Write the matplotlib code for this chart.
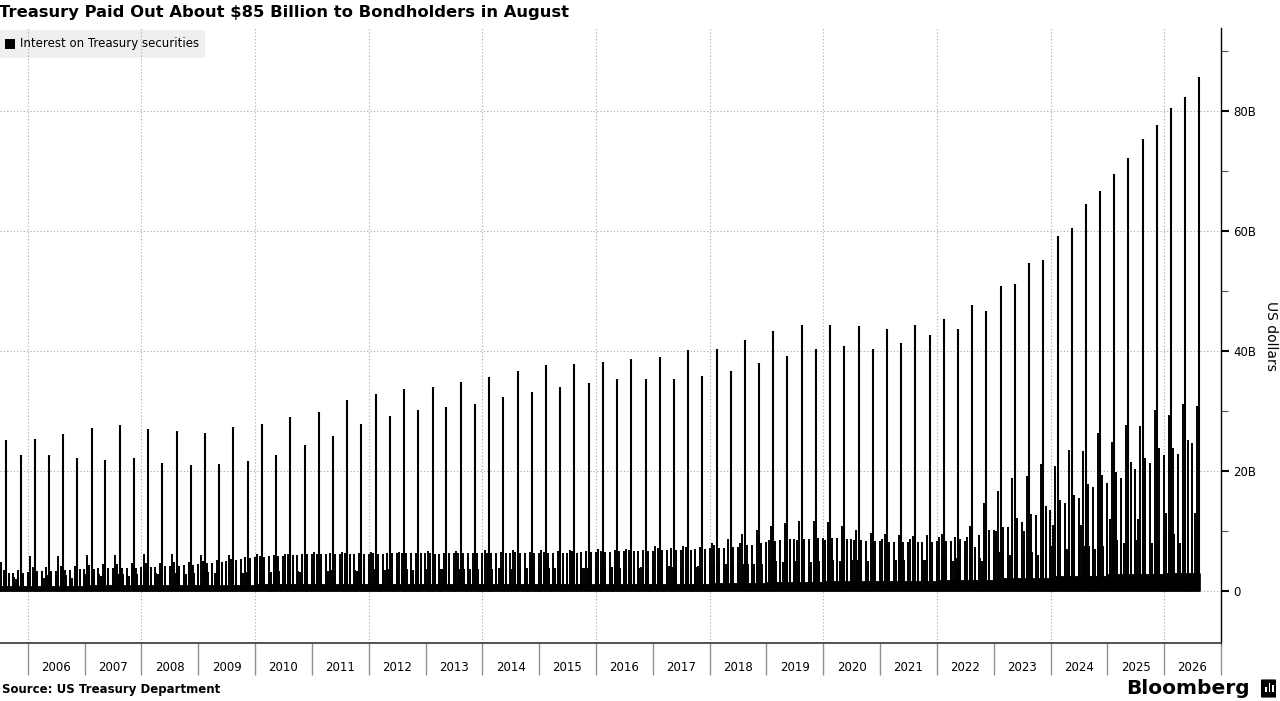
import numpy as np
import pandas as pd
import matplotlib
matplotlib.use("Agg")
import matplotlib.pyplot as plt
import matplotlib.dates as mdates
from matplotlib.patches import Rectangle, FancyBboxPatch
from matplotlib.ticker import FixedLocator, FuncFormatter

plt.rcParams['font.family'] = ['DejaVu Sans']

W, H = 1280, 701

years = list(range(2005, 2027))

# Big coupon days: 15th of Feb / May / Aug / Nov, in $B, starting Aug 2005
spike_vals = [
    25.1, 22.7,
    25.4, 22.6, 26.1, 22.2,
    27.1, 21.9, 27.6, 22.1,
    27.0, 21.4, 26.6, 21.0,
    26.4, 21.1, 27.3, 21.6,
    27.8, 22.7, 29.0, 24.3,
    29.9, 25.8, 31.9, 27.9,
    32.9, 29.1, 33.7, 30.1,
    34.0, 30.6, 34.8, 31.2,
    35.6, 32.3, 36.7, 33.1,
    37.6, 34.0, 37.8, 34.7,
    38.2, 35.3, 38.6, 35.3,
    39.0, 35.4, 40.1, 35.8,
    40.4, 36.7, 41.8, 38.0,
    43.3, 39.2, 44.4, 40.4,
    44.3, 40.9, 44.1, 40.4,
    43.6, 41.3, 44.3, 42.7,
    45.3, 43.6, 47.7, 46.7,
    50.9, 51.1, 54.6, 55.1,
    59.1, 60.5, 64.5, 66.6,
    69.5, 72.1, 75.4, 77.7,
    80.5, 82.3, 85.7,
]

nan = np.nan
# month-end payments, $B, one row per year (Jan..Dec)
month_end = [
    [nan] * 6 + [3.5, 3.0, 3.0, 3.5, 3.0, 3.2],
    [4.0, 3.3, 3.3, 4.0, 3.4, 3.4, 4.2, 3.5, 3.5, 4.2, 3.6, 3.6],
    [4.4, 3.7, 3.8, 4.5, 3.8, 3.8, 4.5, 3.8, 3.9, 4.6, 3.9, 4.0],
    [4.6, 4.0, 4.0, 4.7, 4.1, 4.1, 4.8, 4.2, 4.3, 4.9, 4.4, 4.5],
    [5.0, 4.6, 4.7, 5.2, 4.9, 5.0, 5.4, 5.2, 5.3, 5.6, 5.5, 5.6],
    [5.9, 5.7, 5.8, 6.0, 5.9, 5.9, 6.1, 6.0, 6.0, 6.2, 6.1, 6.1],
    [6.2, 6.1, 6.1, 6.3, 6.2, 6.2, 6.3, 6.2, 6.2, 6.3, 6.2, 6.2],
    [6.3, 6.2, 6.2, 6.4, 6.3, 6.3, 6.4, 6.3, 6.3, 6.4, 6.3, 6.3],
    [6.3, 6.2, 6.2, 6.4, 6.3, 6.3, 6.4, 6.3, 6.3, 6.4, 6.3, 6.3],
    [6.4, 6.3, 6.3, 6.5, 6.4, 6.4, 6.5, 6.4, 6.4, 6.5, 6.4, 6.4],
    [6.5, 6.4, 6.4, 6.6, 6.4, 6.4, 6.6, 6.4, 6.5, 6.6, 6.5, 6.5],
    [6.7, 6.5, 6.5, 6.8, 6.6, 6.6, 6.8, 6.6, 6.6, 6.9, 6.7, 6.7],
    [7.1, 6.8, 6.8, 7.2, 6.9, 6.9, 7.3, 6.9, 7.0, 7.4, 7.0, 7.1],
    [7.6, 7.1, 7.1, 8.7, 7.3, 7.4, 9.5, 7.6, 7.7, 10.1, 8.0, 8.1],
    [10.9, 8.4, 8.5, 11.3, 8.6, 8.6, 11.7, 8.7, 8.7, 11.7, 8.8, 8.8],
    [11.5, 8.8, 8.8, 10.9, 8.7, 8.6, 10.1, 8.5, 8.4, 9.6, 8.3, 8.3],
    [9.5, 8.2, 8.2, 9.3, 8.1, 8.1, 9.2, 8.1, 8.1, 9.3, 8.2, 8.3],
    [9.5, 8.4, 8.4, 9.0, 8.7, 8.4, 10.8, 7.4, 9.3, 14.7, 10.1, 10.2],
    [16.6, 10.7, 10.7, 18.8, 12.1, 11.5, 19.2, 12.9, 12.7, 21.1, 14.1, 13.5],
    [20.9, 15.2, 14.7, 23.5, 16.0, 15.5, 23.3, 17.8, 17.3, 26.4, 19.4, 18.0],
    [24.9, 19.8, 18.8, 27.7, 21.5, 20.3, 27.5, 22.1, 21.3, 30.2, 23.9, 22.6],
    [29.3, 23.9, 22.8, 31.1, 25.2, 24.6, 30.8] + [nan] * 5,
]

# mid-month payments in the other months (Jan/Jul 15 and Apr/Oct 15), per year
mid_jan_jul = [4.8, 5.8, 6.0, 6.2, 6.0, 6.2, 6.5, 6.5, 6.6, 6.8, 6.9, 7.0, 7.5,
               8.0, 8.5, 8.5, 8.6, 9.0, 10.0, 11.0, 12.0, 13.0]
mid_apr_oct = [2.0, 2.2, 2.5, 2.8, 3.0, 3.2, 3.4, 3.5, 3.6, 3.8, 3.8, 4.0, 4.2,
               4.5, 4.8, 5.0, 5.2, 5.0, 6.0, 7.0, 8.0, 8.0]
# payments on the first business day of each month, per year
first_day_level = [2.4, 2.6, 2.8, 3.0, 3.2, 3.4, 3.5, 3.6, 3.6, 3.7, 3.8, 3.9, 4.0,
                   4.5, 5.0, 5.2, 5.2, 5.5, 6.5, 7.5, 8.5, 9.5]
# typical level on ordinary business days, per year
daily_level = [0.9, 0.9, 1.0, 1.0, 1.0, 1.1, 1.1, 1.1, 1.1, 1.2, 1.2, 1.2, 1.2,
               1.4, 1.5, 1.6, 1.7, 1.9, 2.2, 2.5, 2.8, 3.0]

data_start = pd.Timestamp(2005, 7, 1)
data_end = pd.Timestamp(2026, 8, 17)

# ---- build dated series
spike_dates = []
yy, mm = 2005, 8
for v in spike_vals:
    spike_dates.append(pd.Timestamp(yy, mm, 15))
    mm += 3
    if mm > 12:
        mm -= 12
        yy += 1

me_dates, me_vals = [], []
mid_dates, mid_vals = [], []
first_dates, first_vals = [], []
for i, yr in enumerate(years):
    for m in range(1, 13):
        v = month_end[i][m - 1]
        d = pd.Timestamp(yr, m, 1) + pd.offsets.MonthEnd(0)
        if not np.isnan(v) and data_start <= d <= data_end:
            me_dates.append(d)
            me_vals.append(v)
        d15 = pd.Timestamp(yr, m, 15)
        if data_start <= d15 <= data_end:
            if m in (1, 7):
                mid_dates.append(d15)
                mid_vals.append(mid_jan_jul[i])
            elif m in (4, 10):
                mid_dates.append(d15)
                mid_vals.append(mid_apr_oct[i])
        d1 = pd.Timestamp(yr, m, 1) + pd.offsets.BDay(0)
        if data_start <= d1 <= data_end:
            first_dates.append(d1)
            first_vals.append(first_day_level[i])

bdays = pd.bdate_range(data_start, data_end)
day_vals = [daily_level[d.year - 2005] for d in bdays]

# ---- figure
fig = plt.figure(figsize=(W / 100, H / 100), dpi=100)
ax_left, ax_right, ax_top, ax_bot = 0, 1221, 28, 643
ax = fig.add_axes([ax_left / W, 1 - ax_bot / H, (ax_right - ax_left) / W, (ax_bot - ax_top) / H])

y0_px, px_per_b = 591, 6.0
ax.set_ylim(-(ax_bot - y0_px) / px_per_b, (y0_px - ax_top) / px_per_b)
ax.set_xlim(mdates.date2num(pd.Timestamp(2005, 7, 6)), mdates.date2num(pd.Timestamp(2027, 1, 1)))

ax.vlines(mdates.date2num(bdays), 0, day_vals, color='black', lw=0.6, zorder=2)
ax.vlines(mdates.date2num(first_dates), 0, first_vals, color='black', lw=1.4, zorder=2)
ax.vlines(mdates.date2num(mid_dates), 0, mid_vals, color='black', lw=1.4, zorder=2)
ax.vlines(mdates.date2num(me_dates), 0, me_vals, color='black', lw=1.4, zorder=2)
ax.vlines(mdates.date2num(spike_dates), 0, spike_vals, color='black', lw=1.5, zorder=3)

# grid
grid_kw = dict(color='#a8a8a8', lw=0.8, linestyle=(0, (1, 2)), zorder=1)
for v in [0, 20, 40, 60, 80]:
    ax.axhline(v, **grid_kw)
for yr in range(2006, 2027, 2):
    ax.axvline(mdates.date2num(pd.Timestamp(yr, 1, 1)), **grid_kw)

# spines
for s in ['left', 'top']:
    ax.spines[s].set_visible(False)
ax.spines['right'].set_color('black')
ax.spines['right'].set_linewidth(1.0)
ax.spines['bottom'].set_color('#444444')
ax.spines['bottom'].set_linewidth(1.3)

# x axis: year separators + centred labels
ax.xaxis.set_major_locator(FixedLocator(
    [mdates.date2num(pd.Timestamp(yr, 1, 1)) for yr in range(2006, 2028)]))
ax.xaxis.set_major_formatter(FuncFormatter(lambda v, p: ''))
ax.xaxis.set_minor_locator(FixedLocator(
    [mdates.date2num(pd.Timestamp(yr, 7, 2)) for yr in range(2006, 2027)]))
ax.xaxis.set_minor_formatter(FuncFormatter(lambda v, p: str(mdates.num2date(v).year)))
ax.tick_params(axis='x', which='major', direction='out', length=23, width=1.0, color='#909090')
ax.tick_params(axis='x', which='minor', length=0, pad=13, labelsize=8.5, labelcolor='black')

# y axis on the right
ax.yaxis.tick_right()
ax.yaxis.set_major_locator(FixedLocator([0, 20, 40, 60, 80]))
ax.yaxis.set_minor_locator(FixedLocator([10, 30, 50, 70, 90]))
ax.yaxis.set_major_formatter(FuncFormatter(lambda v, p: '0' if v == 0 else f'{int(v)}B'))
ax.tick_params(axis='y', which='major', direction='out', length=6, width=1.5, color='black',
               labelsize=8.5, pad=3)
ax.tick_params(axis='y', which='minor', direction='out', length=5, width=0.8, color='#555555')


def fx(x):
    return x / W


def fy(y):
    return 1 - y / H


fig.text(fx(1271), fy(336), 'US dollars', rotation=270, ha='center', va='center', fontsize=10)

# legend box
ax.add_patch(Rectangle((fx(0), fy(58)), fx(205), (58 - 30) / H, transform=fig.transFigure,
                       facecolor='#efefef', edgecolor='none', zorder=0.5, clip_on=False))
ax.add_patch(Rectangle((fx(5), fy(49)), fx(10), 10 / H, transform=fig.transFigure,
                       facecolor='black', edgecolor='none', zorder=4, clip_on=False))
fig.text(fx(20), fy(44), 'Interest on Treasury securities', ha='left', va='center', fontsize=8.5)

# title and footer
fig.text(fx(-1), fy(13), 'Treasury Paid Out About $85 Billion to Bondholders in August',
         ha='left', va='center', fontsize=11.8, fontweight='bold')
fig.text(fx(2), fy(689), 'Source: US Treasury Department', ha='left', va='center',
         fontsize=8.5, fontweight='bold')
fig.text(fx(1250), fy(688), 'Bloomberg', ha='right', va='center', fontsize=14.5,
         fontweight='bold')
fig.add_artist(FancyBboxPatch((fx(1262), fy(697)), fx(13), 17 / H,
                              boxstyle='round,pad=0.0008', transform=fig.transFigure,
                              facecolor='black', edgecolor='none'))
for bx, bh in [(1265, 5), (1268.5, 9), (1272, 7)]:
    fig.add_artist(Rectangle((fx(bx), fy(692)), fx(1.6), bh / H, transform=fig.transFigure,
                             facecolor='white', edgecolor='none'))

fig.savefig('out.png', dpi=100)
